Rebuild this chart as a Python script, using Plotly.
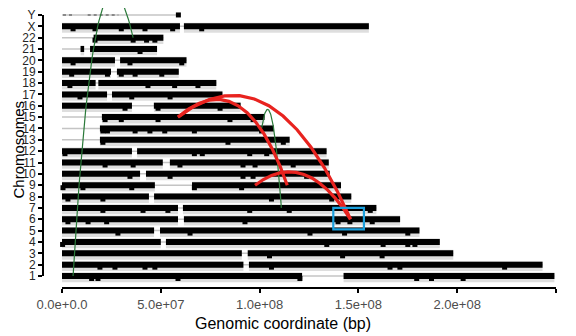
import plotly.graph_objects as go

MB = 1e6

# ---------------- data (Mb) ----------------
chrom_labels = [str(i) for i in range(1, 23)] + ["X", "Y"]
chrom_lengths_mb = [249.2, 243.2, 198.0, 191.2, 180.9, 171.1, 159.1, 146.4,
                    141.2, 135.5, 135.0, 133.9, 115.2, 107.3, 102.5, 90.4,
                    81.2, 78.1, 59.1, 63.0, 48.1, 51.3, 155.3, 58.9]

# covered (data-dense) segments
seg_chrom = ["1", "1", "2", "2", "3", "3", "4", "4", "5", "5", "6", "6",
             "7", "7", "8", "8", "9", "9", "10", "10", "11", "11", "12", "12",
             "13", "14", "15", "16", "16", "17", "17", "18", "18", "19", "19",
             "20", "20", "21", "21", "22", "X", "X"]
seg_start_mb = [0.0, 142.5, 0.0, 94.6, 0.0, 94.0, 0.0, 52.6, 0.0, 49.6, 0.0, 61.7,
                0.0, 61.2, 0.0, 46.6, 0.0, 65.8, 0.0, 42.5, 0.0, 54.6, 0.0, 38.0,
                19.2, 19.2, 20.2, 0.0, 46.5, 0.0, 25.3, 0.0, 18.4, 0.0, 27.8,
                0.0, 29.4, 9.4, 14.2, 16.0, 0.0, 61.7]
seg_end_mb = [121.5, 249.2, 91.8, 243.2, 91.0, 198.0, 50.0, 191.2, 46.6, 180.9, 58.7, 171.1,
              58.7, 159.1, 44.0, 146.4, 47.0, 141.2, 39.5, 135.5, 51.0, 135.0, 35.4, 133.9,
              115.2, 107.3, 102.5, 35.4, 90.4, 22.8, 81.2, 17.0, 78.1, 24.8, 59.1,
              26.8, 63.0, 11.2, 48.1, 51.3, 59.7, 155.3]

# sparse (faint) segments
sparse_chrom = ["Y", "Y"]
sparse_start_mb = [0.5, 13.0]
sparse_end_mb = [6.5, 28.5]

# highlighted probe markers
mark_chrom = (["1"] * 7 + ["2"] * 8 + ["3"] * 3 + ["4"] * 5 + ["5"] * 5 + ["6"] * 7 +
              ["7"] * 6 + ["8"] * 4 + ["9"] * 5 + ["10"] * 5 + ["11"] * 6 + ["12"] * 5 +
              ["13"] * 3 + ["14"] * 7 + ["15"] * 5 + ["16"] * 3 + ["17"] * 3 + ["18"] * 4 +
              ["19"] * 5 + ["20"] * 3 + ["21"] * 1 + ["22"] * 4 + ["X"] * 6 + ["Y"] * 1)
mark_pos_mb = [15.0, 18.2, 58.7, 120.4, 179.5, 187.0, 203.0,
               19.2, 26.8, 42.0, 47.0, 106.0, 166.0, 171.0, 224.0,
               105.0, 142.0, 162.0,
               0.3, 134.0, 162.5, 175.0, 178.6,
               28.3, 64.8, 125.5, 143.0, 175.0,
               3.0, 13.2, 22.6, 92.6, 139.7, 145.7, 157.0,
               20.7, 41.0, 53.6, 95.0, 115.0, 156.0,
               3.0, 20.7, 106.0, 136.5,
               0.5, 10.6, 35.3, 67.0, 90.9,
               34.4, 54.7, 91.6, 96.7, 123.8,
               21.8, 36.0, 59.7, 91.6, 97.7, 117.0,
               1.5, 67.0, 71.0, 95.0, 103.6,
               20.7, 84.0, 112.0,
               20.7, 23.0, 37.0, 44.5, 52.0, 67.0, 101.0,
               21.8, 30.0, 48.6, 85.0, 96.7,
               31.9, 48.6, 80.0,
               9.1, 35.3, 54.7,
               4.0, 43.5, 57.0, 68.8,
               4.9, 23.0, 30.0, 37.0, 50.5,
               5.6, 34.4, 60.6,
               39.5,
               16.7, 36.0, 42.8, 47.0,
               5.6, 16.7, 30.0, 42.0, 56.0, 70.7,
               58.9]

# arcs (links) between loci: endpoints + control point (quadratic curve)
arc_color = ["green", "green", "red", "red", "red"]
arc_from_chrom = ["1", "14", "15", "15", "9"]
arc_from_mb = [5.6, 101.0, 58.7, 58.7, 97.7]
arc_to_chrom = ["22", "7", "6", "9", "6"]
arc_to_mb = [36.0, 111.0, 146.0, 114.0, 146.0]
arc_ctrl_mb = [17.3, 106.0, 107.0, 92.0, 123.0]
arc_ctrl_row = [36.0, 19.5, 21.5, 20.0, 12.4]

# highlight box
box_x_mb = [137.3, 152.8]
box_rows = [5.1, 7.0]

x_tickvals = [0, 5e7, 1e8, 1.5e8, 2e8, 2.5e8]
x_ticktext = ["0.0e+0.0", "5.0e+07", "1.0e+08", "1.5e+08", "2.0e+08", "2.5e+08"]

# ---------------- build ----------------
def row(c):
    return chrom_labels.index(c) + 1

FONT = "Liberation Sans, Arial, Helvetica, sans-serif"
fig = go.Figure()

# backbone
bx, by = [], []
for i, L in enumerate(chrom_lengths_mb):
    bx += [0, L * MB, None]
    by += [i + 1, i + 1, None]
fig.add_trace(go.Scatter(x=bx, y=by, mode="lines", line=dict(color="#c4c4c4", width=1.5),
                         hoverinfo="skip"))

# covered segments
sx, sy = [], []
for c, s, e in zip(seg_chrom, seg_start_mb, seg_end_mb):
    sx += [s * MB, e * MB, None]
    sy += [row(c), row(c), None]
fig.add_trace(go.Scatter(x=sx, y=[v - 0.12 if v is not None else None for v in sy],
                         mode="lines", line=dict(color="rgba(0,0,0,0.13)", width=10),
                         hoverinfo="skip"))
fig.add_trace(go.Scatter(x=sx, y=sy, mode="lines", line=dict(color="black", width=6),
                         hoverinfo="skip"))

# sparse segments
px_, py_ = [], []
for c, s, e in zip(sparse_chrom, sparse_start_mb, sparse_end_mb):
    px_ += [s * MB, e * MB, None]
    py_ += [row(c), row(c), None]
fig.add_trace(go.Scatter(x=px_, y=py_, mode="lines",
                         line=dict(color="rgba(0,0,0,0.35)", width=2, dash="dot"),
                         hoverinfo="skip"))

# markers
fig.add_trace(go.Scatter(x=[p * MB for p in mark_pos_mb],
                         y=[row(c) - (0 if c == "Y" else 0.22) for c in mark_chrom],
                         mode="markers",
                         marker=dict(symbol="square", size=5, color="black"),
                         hoverinfo="skip"))

# arcs
color_map = {"green": ("#2b7a3a", 1.2, 60), "red": ("#e8231f", 3.2, 12)}
for col, fc, fm, tc, tm, cm, cr in zip(arc_color, arc_from_chrom, arc_from_mb, arc_to_chrom,
                                         arc_to_mb, arc_ctrl_mb, arc_ctrl_row):
    lc, lw, n = color_map[col]
    x0, y0 = fm * MB, row(fc)
    x2, y2 = tm * MB, row(tc)
    x1, y1 = cm * MB, cr
    xs, ys = [], []
    for k in range(n + 1):
        t = k / n
        xs.append((1 - t) ** 2 * x0 + 2 * t * (1 - t) * x1 + t ** 2 * x2)
        ys.append((1 - t) ** 2 * y0 + 2 * t * (1 - t) * y1 + t ** 2 * y2)
    fig.add_trace(go.Scatter(x=xs, y=ys, mode="lines", line=dict(color=lc, width=lw),
                             hoverinfo="skip"))

# ---------------- layout ----------------
# the page body has an 8px margin: the figure div starts at page (8, 8)
OFF = 8
W, H = 576 - OFF, 336 - OFF
plot_left, plot_right = 43 - OFF, 556 - OFF      # in div pixels
plot_top, plot_bottom = 0, 288 - OFF
px_per_mb = 494 / 250.0
x_left = -(19 / px_per_mb) * MB
row_px = 11.35
y_bottom = 1 - 12 / row_px
y_top = 1 + (276 - OFF) / row_px
pw = plot_right - plot_left
ph = plot_bottom - plot_top

fig.update_layout(
    template="none",
    width=W, height=H,
    margin=dict(l=plot_left, r=W - plot_right, t=plot_top, b=H - plot_bottom, pad=0),
    plot_bgcolor="white", paper_bgcolor="white",
    showlegend=False,
    font=dict(family=FONT, color="black"),
    xaxis=dict(range=[x_left, 2.5e8], showline=False, showgrid=False, zeroline=False,
               ticks="outside", ticklen=4, tickwidth=1.5, tickcolor="black",
               tickvals=x_tickvals, ticktext=x_ticktext, automargin=False,
               tickfont=dict(family=FONT, size=13, color="#4d4d4d")),
    yaxis=dict(range=[y_bottom, y_top], showline=False, showgrid=False, zeroline=False,
               ticks="outside", ticklen=4, tickwidth=1.5, tickcolor="black",
               tickvals=list(range(1, 25)), ticktext=chrom_labels, automargin=False,
               tickfont=dict(family=FONT, size=12, color="#262626")),
    shapes=[
        dict(type="line", xref="x", yref="paper", x0=0, x1=2.5e8, y0=0, y1=0,
             line=dict(color="black", width=2)),
        dict(type="line", xref="paper", yref="y", x0=0, x1=0, y0=1, y1=24,
             line=dict(color="black", width=2)),
        dict(type="rect", xref="x", yref="y", x0=box_x_mb[0] * MB, x1=box_x_mb[1] * MB,
             y0=box_rows[0], y1=box_rows[1], line=dict(color="#1a9fdc", width=2.2),
             layer="above"),
    ],
    annotations=[
        dict(text="Genomic coordinate (bp)", xref="paper", yref="paper",
             x=(283 - 43) / pw, y=(288 - 323) / ph, xanchor="center", yanchor="middle",
             showarrow=False, font=dict(family=FONT, size=16, color="black")),
        dict(text="Chromosomes", xref="paper", yref="paper",
             x=(17.5 - 43) / pw, y=(288 - 150) / ph, xanchor="center", yanchor="middle",
             textangle=-90, showarrow=False, font=dict(family=FONT, size=15, color="black")),
    ],
)

fig.write_html("out.html")
